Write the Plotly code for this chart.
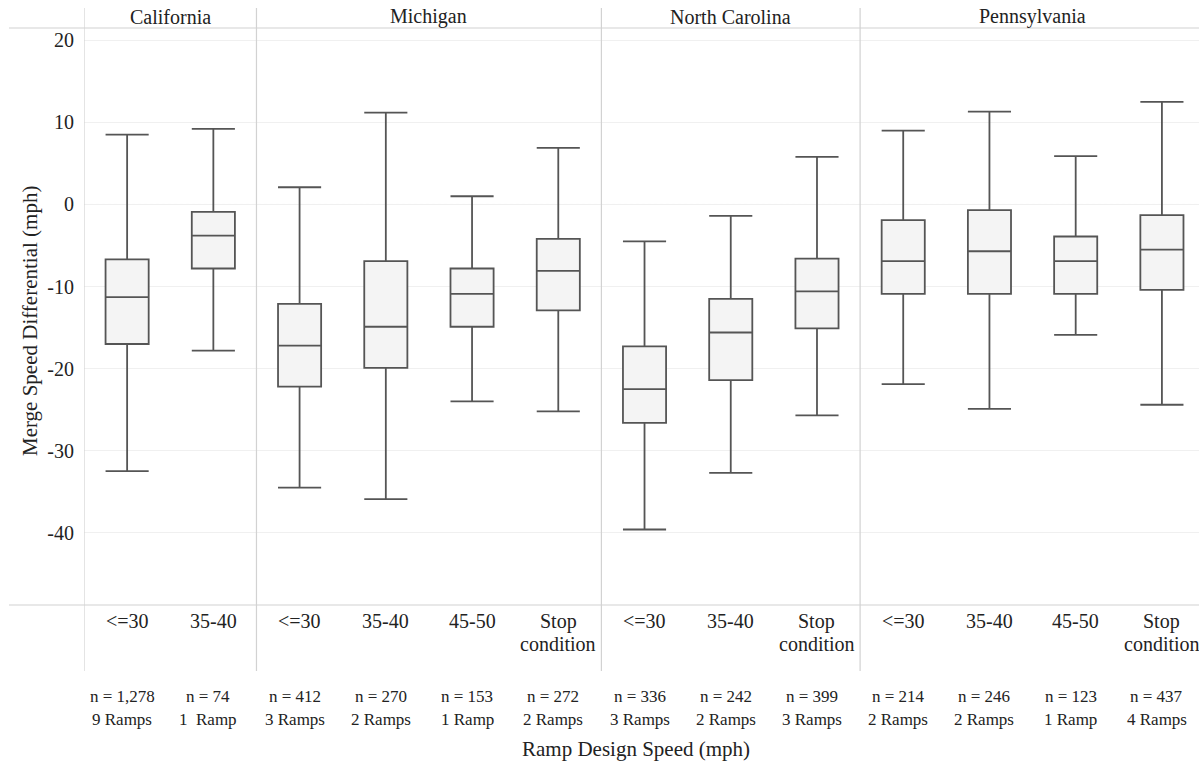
import plotly.graph_objects as go

# ---------------- data ----------------
states = ["California", "Michigan", "North Carolina", "Pennsylvania"]
state_speeds = [
    ["<=30", "35-40"],
    ["<=30", "35-40", "45-50", "Stop condition"],
    ["<=30", "35-40", "Stop condition"],
    ["<=30", "35-40", "45-50", "Stop condition"],
]
n_counts = ["1,278", "74", "412", "270", "153", "272", "336", "242", "399", "214", "246", "123", "437"]
ramps = ["9 Ramps", "1  Ramp", "3 Ramps", "2 Ramps", "1 Ramp", "2 Ramps", "3 Ramps",
         "2 Ramps", "3 Ramps", "2 Ramps", "2 Ramps", "1 Ramp", "4 Ramps"]

upper_whisker = [8.5, 9.2, 2.1, 11.2, 1.0, 6.9, -4.5, -1.4, 5.8, 9.0, 11.3, 5.9, 12.5]
q3_values = [-6.7, -0.9, -12.1, -6.9, -7.8, -4.2, -17.3, -11.5, -6.6, -1.9, -0.7, -3.9, -1.3]
median_values = [-11.3, -3.8, -17.2, -14.9, -10.9, -8.1, -22.5, -15.6, -10.6, -6.9, -5.7, -6.9, -5.5]
q1_values = [-17.0, -7.8, -22.2, -19.9, -14.9, -12.9, -26.6, -21.4, -15.1, -10.9, -10.9, -10.9, -10.4]
lower_whisker = [-32.5, -17.8, -34.5, -35.9, -24.0, -25.2, -39.6, -32.7, -25.7, -21.9, -24.9, -15.9, -24.4]

y_ticks = [20, 10, 0, -10, -20, -30, -40]

# ---------------- derived positions ----------------
speed_labels = [s for group in state_speeds for s in group]
positions = list(range(len(speed_labels)))
group_bounds = []
start = 0
for group in state_speeds:
    group_bounds.append((start, start + len(group) - 1))
    start += len(group)

FONT = "Liberation Serif"
TXT = "#222222"
SEP = "#d2d2d2"
BOX_LINE = "#555555"

# plot area in pixels: left 84, top 28, width 1115, height 577
def py2paper(py):
    return (605 - py) / 577

def px2paper(px):
    return (px - 84) / 1115

fig = go.Figure()
fig.add_trace(go.Box(
    x=positions,
    q1=q1_values, median=median_values, q3=q3_values,
    lowerfence=lower_whisker, upperfence=upper_whisker,
    width=0.5, whiskerwidth=1,
    fillcolor="#f4f4f4",
    line=dict(color=BOX_LINE, width=1.8),
    boxpoints=False, showlegend=False,
))

shapes = []
# dotted zero line
shapes.append(dict(type="line", xref="paper", x0=0, x1=1, yref="y", y0=0, y1=0,
                   line=dict(color="#c4c4c4", width=1, dash="dot"), layer="below"))
# header and footer horizontal rules
for yp in (0, 1):
    shapes.append(dict(type="line", xref="paper", x0=px2paper(9), x1=1, yref="paper", y0=yp, y1=yp,
                       line=dict(color=SEP, width=1.2)))
# vertical separators between states
for (a, b) in group_bounds:
    shapes.append(dict(type="line", xref="x", x0=a - 0.5, x1=a - 0.5, yref="paper",
                       y0=py2paper(671), y1=py2paper(8), line=dict(color=SEP, width=1.2)))

annotations = []
# state headers
for st, (a, b) in zip(states, group_bounds):
    annotations.append(dict(x=(a + b) / 2, xref="x", y=py2paper(17), yref="paper", text=st,
                            showarrow=False, xanchor="center", yanchor="middle",
                            font=dict(family=FONT, size=20, color=TXT)))
# speed labels
for x, lab in zip(positions, speed_labels):
    parts = lab.split(" ")
    lines = parts if (len(parts) == 2 and parts[0] == "Stop") else [lab]
    for k, ln in enumerate(lines):
        annotations.append(dict(x=x, xref="x", y=py2paper(621 + 23 * k), yref="paper", text=ln,
                                showarrow=False, xanchor="center", yanchor="middle",
                                font=dict(family=FONT, size=20, color=TXT)))
# n labels
for x, n, r in zip(positions, n_counts, ramps):
    annotations.append(dict(x=x, xref="x", xshift=-5, y=py2paper(696), yref="paper",
                            text="n = " + n, showarrow=False, xanchor="center", yanchor="middle",
                            font=dict(family=FONT, size=17, color=TXT)))
    annotations.append(dict(x=x, xref="x", xshift=-5, y=py2paper(719), yref="paper",
                            text=r, showarrow=False, xanchor="center", yanchor="middle",
                            font=dict(family=FONT, size=17, color=TXT)))
# axis titles
annotations.append(dict(x=px2paper(636), xref="paper", y=py2paper(749), yref="paper",
                        text="Ramp Design Speed (mph)", showarrow=False,
                        xanchor="center", yanchor="middle",
                        font=dict(family=FONT, size=21, color=TXT)))
annotations.append(dict(x=px2paper(30), xref="paper", y=py2paper(321), yref="paper",
                        text="Merge Speed Differential (mph)", textangle=-90, showarrow=False,
                        xanchor="center", yanchor="middle",
                        font=dict(family=FONT, size=21, color=TXT)))

fig.update_layout(
    width=1199, height=765,
    margin=dict(l=84, r=0, t=28, b=160),
    plot_bgcolor="white", paper_bgcolor="white",
    shapes=shapes, annotations=annotations,
    xaxis=dict(range=[-0.5, 12.43], showticklabels=False, showgrid=False, zeroline=False,
               showline=False, ticks=""),
    yaxis=dict(range=[-48.8, 21.5], tickvals=y_ticks, ticktext=[str(v) for v in y_ticks],
               showgrid=True, gridcolor="#f0f0f0", gridwidth=1, zeroline=False,
               showline=False, ticks="", ticklabelstandoff=9,
               tickfont=dict(family=FONT, size=20, color=TXT)),
)

fig.write_html("out.html")
